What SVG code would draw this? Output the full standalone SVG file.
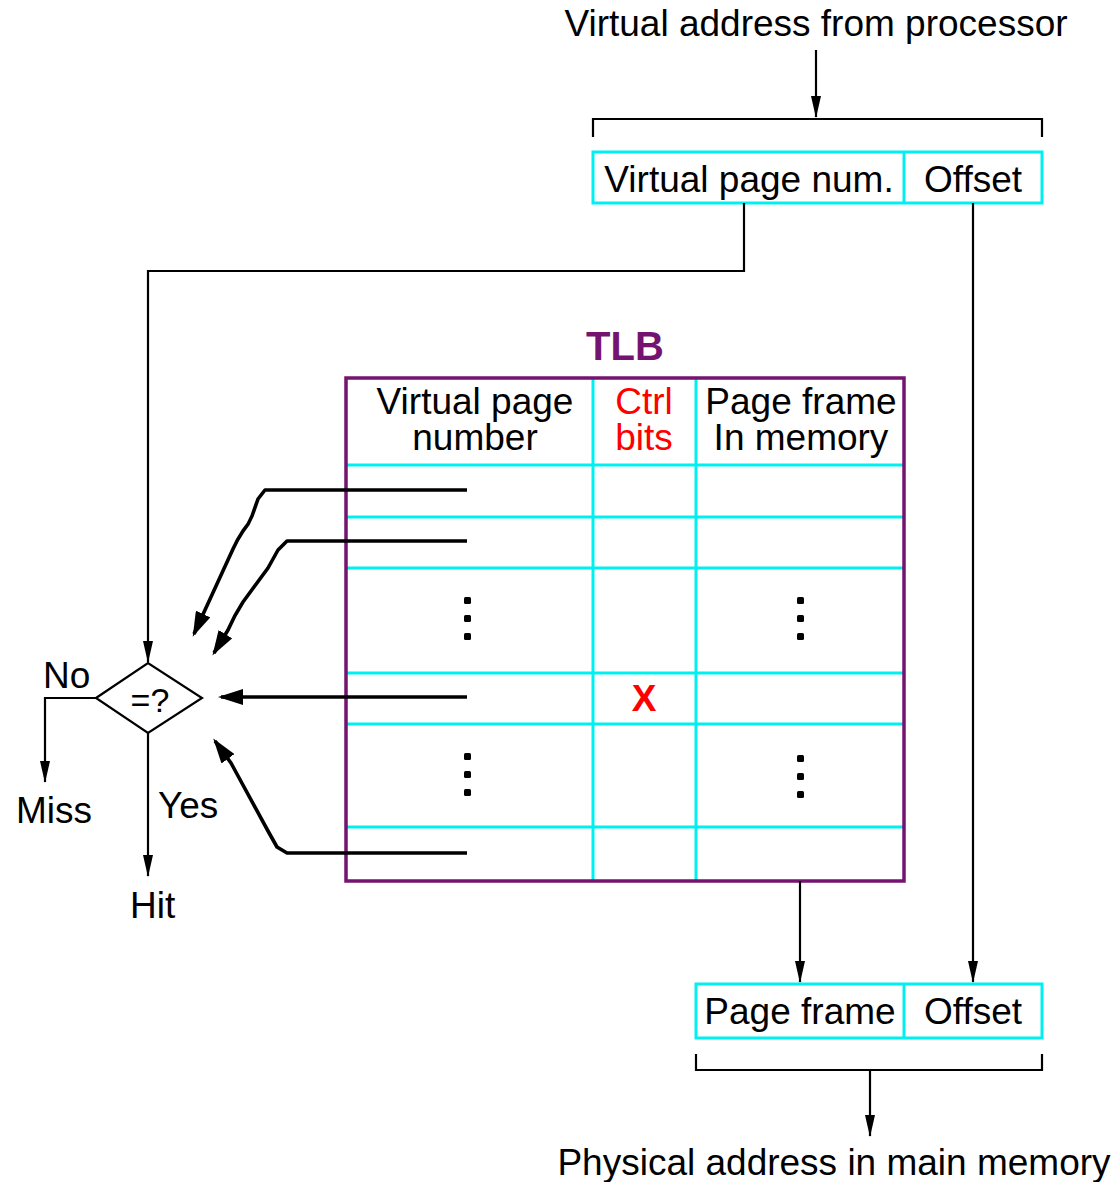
<svg xmlns="http://www.w3.org/2000/svg" width="1120" height="1182" viewBox="0 0 1120 1182">
  <style>
    text { font-family: "Liberation Sans", Arial, sans-serif; font-size: 37px; fill: #000; }
    .mid { text-anchor: middle; }
    .red { fill: #ff0000; }
    .field { fill: none; stroke: #00f0f0; stroke-width: 3; }
    .grid { stroke: #00f0f0; stroke-width: 3; fill: none; }
    .tlb { fill: none; stroke: #741470; stroke-width: 3.5; }
    .wire { fill: none; stroke: #000; stroke-width: 2.2; }
    .thick { fill: none; stroke: #000; stroke-width: 3.6; stroke-linejoin: round; }
    .dot { fill: #000; }
  </style>
  <defs>
    <marker id="arrow" viewBox="0 0 22 10" refX="21" refY="5" markerWidth="22" markerHeight="10" markerUnits="userSpaceOnUse" orient="auto">
      <path d="M0,0 L22,5 L0,10 z" fill="#000"/>
    </marker>
    <marker id="arrowBig" viewBox="0 0 25 16" refX="22" refY="8" markerWidth="25" markerHeight="16" markerUnits="userSpaceOnUse" orient="auto">
      <path d="M0,0 L25,8 L0,16 z" fill="#000"/>
    </marker>
  </defs>

  <!-- virtual address -->
  <g id="virtual-address">
    <text class="mid" x="816" y="36">Virtual address from processor</text>
    <path class="wire" d="M593,137 V119 H1042 V137"/>
    <rect class="field" x="593" y="152" width="449" height="51"/>
    <line class="grid" x1="904" y1="152" x2="904" y2="203"/>
    <text class="mid" x="749" y="192">Virtual page num.</text>
    <text class="mid" x="973" y="192">Offset</text>
  </g>

  <!-- TLB table -->
  <g id="tlb">
    <text class="mid" x="625" y="360" style="font-weight:bold;font-size:40px;fill:#741470">TLB</text>
    <g class="grid">
      <line x1="593" y1="378" x2="593" y2="881"/>
      <line x1="696" y1="378" x2="696" y2="881"/>
      <line x1="346" y1="465" x2="904" y2="465"/>
      <line x1="346" y1="517" x2="904" y2="517"/>
      <line x1="346" y1="568" x2="904" y2="568"/>
      <line x1="346" y1="673" x2="904" y2="673"/>
      <line x1="346" y1="724" x2="904" y2="724"/>
      <line x1="346" y1="827" x2="904" y2="827"/>
    </g>
    <rect class="tlb" x="346" y="378" width="558" height="503"/>
    <text class="mid" x="475" y="414">Virtual page</text>
    <text class="mid" x="475" y="450">number</text>
    <text class="mid red" x="644" y="414">Ctrl</text>
    <text class="mid red" x="644" y="450">bits</text>
    <text class="mid" x="801" y="414">Page frame</text>
    <text class="mid" x="801" y="450">In memory</text>
    <text class="mid red" x="644" y="711" style="font-weight:bold">X</text>
    <!-- ellipsis dots -->
    <rect class="dot" x="464" y="597" width="7" height="7" rx="1.5"/>
    <rect class="dot" x="464" y="615" width="7" height="7" rx="1.5"/>
    <rect class="dot" x="464" y="633" width="7" height="7" rx="1.5"/>
    <rect class="dot" x="464" y="753" width="7" height="7" rx="1.5"/>
    <rect class="dot" x="464" y="771" width="7" height="7" rx="1.5"/>
    <rect class="dot" x="464" y="789" width="7" height="7" rx="1.5"/>
    <rect class="dot" x="797" y="597" width="7" height="7" rx="1.5"/>
    <rect class="dot" x="797" y="615" width="7" height="7" rx="1.5"/>
    <rect class="dot" x="797" y="633" width="7" height="7" rx="1.5"/>
    <rect class="dot" x="797" y="755" width="7" height="7" rx="1.5"/>
    <rect class="dot" x="797" y="773" width="7" height="7" rx="1.5"/>
    <rect class="dot" x="797" y="791" width="7" height="7" rx="1.5"/>
  </g>

  <!-- comparator -->
  <g id="compare">
    <path d="M96,698 L148,663 L202,698 L148,733 z" fill="#fff" stroke="#000" stroke-width="2.2"/>
    <text class="mid" x="150" y="712" style="font-size:34px">=?</text>
  </g>
  <g id="outcome-labels">
    <text x="43" y="688">No</text>
    <text x="16" y="823">Miss</text>
    <text x="158" y="818">Yes</text>
    <text x="130" y="918">Hit</text>
  </g>

  <!-- physical address -->
  <g id="physical-address">
    <rect class="field" x="696" y="984" width="346" height="54"/>
    <line class="grid" x1="904" y1="984" x2="904" y2="1038"/>
    <text class="mid" x="800" y="1024">Page frame</text>
    <text class="mid" x="973" y="1024">Offset</text>
    <path class="wire" d="M696,1054 V1070 H1042 V1054"/>
    <text class="mid" x="834" y="1175">Physical address in main memory</text>
  </g>

  <!-- connectors -->
  <g id="connectors">
    <line class="wire" x1="816" y1="50" x2="816" y2="117" marker-end="url(#arrow)"/>
    <path class="wire" d="M744,203 V271 H148 V662" marker-end="url(#arrow)"/>
    <line class="wire" x1="973" y1="203" x2="973" y2="982" marker-end="url(#arrow)"/>
    <line class="wire" x1="800" y1="881" x2="800" y2="982" marker-end="url(#arrow)"/>
    <line class="wire" x1="870" y1="1070" x2="870" y2="1136" marker-end="url(#arrow)"/>
    <path class="wire" d="M96,698 H45 V782" marker-end="url(#arrow)"/>
    <line class="wire" x1="148" y1="733" x2="148" y2="876" marker-end="url(#arrow)"/>

    <path class="thick" d="M467,490 H265 L258,499 L252,516 Q249,524 243,531 Q237,540 233,549 L194,634" marker-end="url(#arrowBig)"/>
    <path class="thick" d="M467,541 H287 L278,550 L268,568 L243,602 Q234,616 228,630 L214,653" marker-end="url(#arrowBig)"/>
    <path class="thick" d="M467,697 H221" marker-end="url(#arrowBig)"/>
    <path class="thick" d="M467,853 H287 L277,847 L268,831 L231,763 L215,741" marker-end="url(#arrowBig)"/>
  </g>
</svg>
